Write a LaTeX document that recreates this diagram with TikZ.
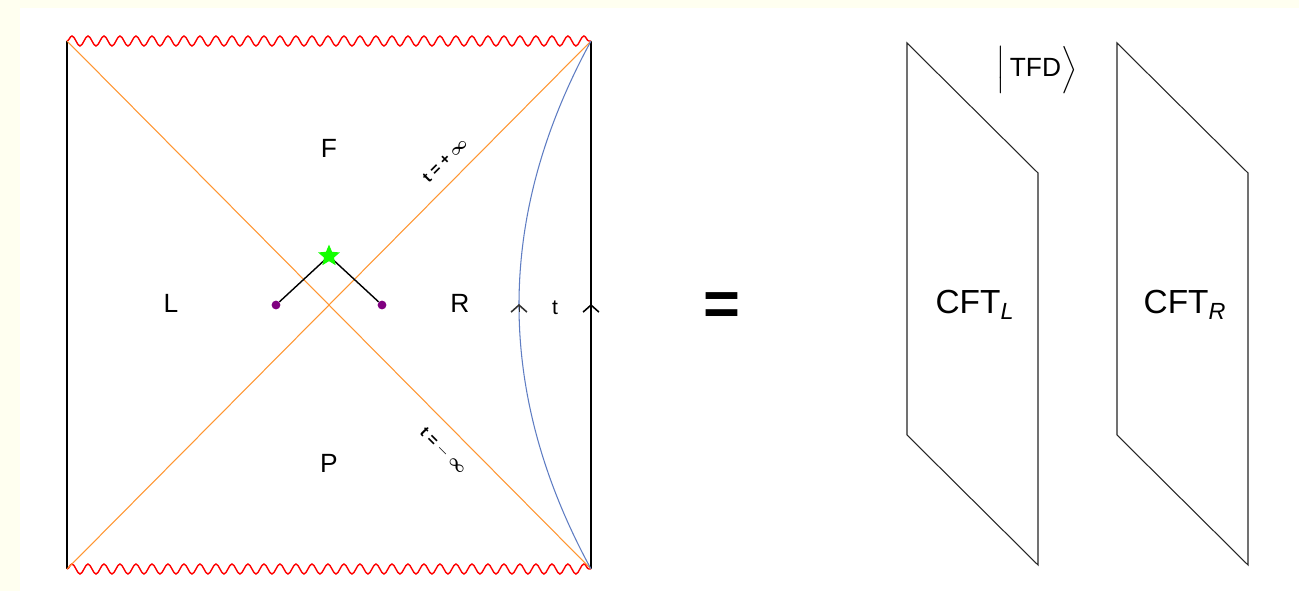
\documentclass[tikz,border=0pt]{standalone}
\usepackage{amsmath,amssymb}
\usepackage{fontspec}
\setmainfont{Liberation Sans}
\usetikzlibrary{decorations.pathmorphing,arrows.meta,shapes.geometric}
\definecolor{horizon}{RGB}{255,150,50}
\definecolor{bdry}{RGB}{95,125,195}
\definecolor{cream}{RGB}{255,255,240}
\tikzset{
  sing/.style={red,thick,decorate,decoration={snake,amplitude=0.1cm,segment length=0.32cm}},
  lbl/.style={font=\fontsize{15}{17}\selectfont},
  biglbl/.style={font=\fontsize{19}{22}\selectfont},
  tinylbl/.style={font=\bfseries\fontsize{9}{10}\selectfont,inner sep=1pt},
  tick/.style={-{Straight Barb[length=4pt,width=9pt,line width=0.9pt]}},
  endpt/.style={circle,fill=violet,inner sep=0pt,minimum size=5pt}
}
\begin{document}
\begin{tikzpicture}[x=0.02cm,y=-0.02cm]
% background
\useasboundingbox[fill=cream] (0,0) rectangle (1299,591);
\fill[white] (20,8) rectangle (1299,591);

% corners of the diagram
\coordinate (tl) at (67,41);
\coordinate (tr) at (591,41);
\coordinate (bl) at (67,569);
\coordinate (br) at (591,569);

% boundaries
\draw[thick] (tl) -- (bl);
\draw[thick] (tr) -- (br);
\draw[sing] (tl) -- (tr);
\draw[sing] (bl) -- (br);

% horizons
\draw[horizon,semithick] (tl) -- (br);
\draw[horizon,semithick] (bl) -- (tr);

% cutoff surface
\draw[bdry,semithick] (tr) .. controls (495,217) and (495,393) .. (br);

% time arrows
\draw[black!80,tick] (519,312) -- (519,304);
\draw[tick] (591,312) -- (591,304);
\node[lbl,font=\fontsize{12}{14}\selectfont] (tlab) at (555,308) {t};

% regions
\node[lbl] (F) at (329,148) {F};
\node[lbl] (L) at (171,303) {L};
\node[lbl] (R) at (460,303) {R};
\node[lbl] (P) at (329,463) {P};

% horizon labels
\node[tinylbl,rotate=45] (tplus) at (445,160) {t = + $\boldsymbol{\infty}$};
\node[tinylbl,rotate=-45] (tminus) at (443,451) {t = $-$ $\boldsymbol{\infty}$};

% extremal surface
\node[endpt] (ql) at (276,305) {};
\node[endpt] (qr) at (382,305) {};
\coordinate (qtop) at (329,256);
\draw[thick] (ql) -- (qtop) -- (qr);
\node[star,star points=5,star point ratio=2.2,fill=green!90!lime,inner sep=0pt,minimum size=13pt] (qes) at (qtop) {};

% equals
\node[font=\bfseries\fontsize{36}{40}\selectfont] (eq) at (722,309) {=};

% CFT sheets
\draw[black!85,semithick] (907,43) -- (1038,173) -- (1038,565) -- (907,435) -- cycle;
\draw[black!85,semithick] (1117,43) -- (1248,173) -- (1248,565) -- (1117,435) -- cycle;
\node[biglbl] (cftl) at (975,305) {CFT$_{\textit{L}}$};
\node[biglbl] (cftr) at (1185,305) {CFT$_{\textit{R}}$};

% state
\node[lbl] (tfd) at (1037,70) {$\Bigl|\,\text{TFD}\Bigr\rangle$};
\end{tikzpicture}
\end{document}
